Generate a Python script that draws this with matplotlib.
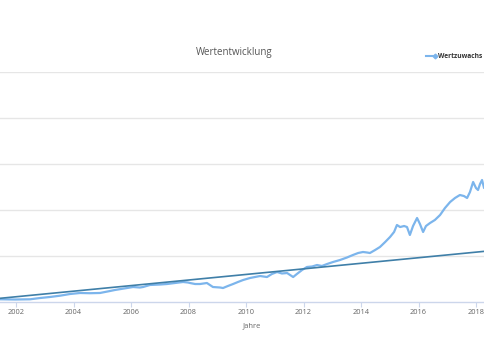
import matplotlib

matplotlib.use("Agg")
import matplotlib.pyplot as plt
from matplotlib.lines import Line2D

LIGHT = "#7cb5ec"
DARK = "#3f7fa8"
GRID = "#e6e6e6"
AXIS = "#ccd6eb"
LABEL = "#666666"

# Wertzuwachs (year, value in grid steps)
years = [
    2001.44, 2001.97, 2002.49, 2002.84, 2003.18, 2003.53, 2003.88, 2004.23,
    2004.57, 2004.92, 2005.27, 2005.44, 2005.86, 2006.07, 2006.31, 2006.42,
    2006.66, 2007.01, 2007.25, 2007.53, 2007.81, 2007.98, 2008.05, 2008.23,
    2008.40, 2008.64, 2008.85, 2009.10, 2009.20, 2009.37, 2009.55, 2009.72,
    2009.90, 2010.14, 2010.31, 2010.49, 2010.73, 2010.90, 2011.08, 2011.25,
    2011.43, 2011.64, 2011.77, 2011.95, 2012.12, 2012.30, 2012.47, 2012.64,
    2012.82, 2013.03, 2013.27, 2013.51, 2013.72, 2013.90, 2014.07, 2014.21,
    2014.31, 2014.49, 2014.66, 2014.84, 2015.01, 2015.15, 2015.25, 2015.36,
    2015.50, 2015.60, 2015.70, 2015.81, 2015.95, 2016.05, 2016.16, 2016.26,
    2016.40, 2016.57, 2016.75, 2016.92, 2017.10, 2017.27, 2017.44, 2017.58,
    2017.69, 2017.79, 2017.90, 2018.00, 2018.07, 2018.14, 2018.21, 2018.28,
    2018.35,
]
values = [
    0.059, 0.054, 0.059, 0.087, 0.109, 0.137, 0.174, 0.196,
    0.191, 0.196, 0.239, 0.261, 0.304, 0.326, 0.315, 0.326,
    0.370, 0.380, 0.391, 0.413, 0.435, 0.424, 0.413, 0.391,
    0.391, 0.413, 0.326, 0.315, 0.304, 0.348, 0.391, 0.435,
    0.478, 0.522, 0.543, 0.565, 0.543, 0.609, 0.652, 0.620,
    0.630, 0.543, 0.609, 0.696, 0.761, 0.772, 0.804, 0.783,
    0.826, 0.870, 0.913, 0.967, 1.022, 1.065, 1.087, 1.076,
    1.065, 1.130, 1.196, 1.304, 1.413, 1.522, 1.674, 1.630,
    1.652, 1.630, 1.457, 1.652, 1.826, 1.696, 1.522, 1.652,
    1.717, 1.783, 1.891, 2.043, 2.174, 2.261, 2.326, 2.304,
    2.261, 2.391, 2.609, 2.478, 2.435, 2.565, 2.652, 2.478,
    2.522,
]

# linear trend, start and end
trend_years = [2001.44, 2018.35]
trend_values = [0.080, 1.105]

xticks = list(range(2002, 2020, 2))


def main() -> None:
    fig = plt.figure(figsize=(4.85, 3.6), dpi=100)
    ax = fig.add_axes([0.0, 58 / 360, 1.0, 230 / 360])

    ax.plot(years, values, color=LIGHT, lw=1.6, zorder=3)
    ax.plot(trend_years, trend_values, color=DARK, lw=1.2, zorder=4)

    ax.set_xlim(2001.443, 2018.313)
    ax.set_ylim(0, 5)
    ax.set_yticks([1, 2, 3, 4, 5])
    ax.set_yticklabels([])
    ax.tick_params(axis="y", length=0)
    ax.grid(axis="y", color=GRID, lw=1.0)
    ax.set_axisbelow(True)

    ax.set_xticks(xticks)
    ax.set_xticklabels([str(t) for t in xticks], fontsize=5.3, color=LABEL,
                       family="Open Sans")
    ax.tick_params(axis="x", direction="out", length=3.6, width=0.8,
                   color=AXIS, pad=1.5)

    for s in ("top", "left", "right"):
        ax.spines[s].set_visible(False)
    ax.spines["bottom"].set_color(AXIS)
    ax.spines["bottom"].set_linewidth(1.0)

    fig.text(252 / 485, 1 - 326 / 360, "Jahre", ha="center", va="center",
             fontsize=5.5, color=LABEL, family="Open Sans")
    fig.text(234 / 485, 1 - 53 / 360, "Wertentwicklung", ha="center",
             va="center", fontsize=7, color="#555555", family="Open Sans")

    # legend entry (top right, partly cut off in the original)
    fig.add_artist(Line2D([426 / 485, 435 / 485], [1 - 56 / 360] * 2,
                          color=LIGHT, lw=1.5, marker="D", markersize=2.4,
                          markevery=[1], transform=fig.transFigure))
    fig.text(438 / 485, 1 - 56 / 360, "Wertzuwachs", ha="left", va="center",
             fontsize=4.75, color="#333333", fontweight="bold",
             family="Open Sans")

    fig.savefig("out.png", dpi=100, facecolor="white")
    plt.close(fig)


if __name__ == "__main__":
    main()
